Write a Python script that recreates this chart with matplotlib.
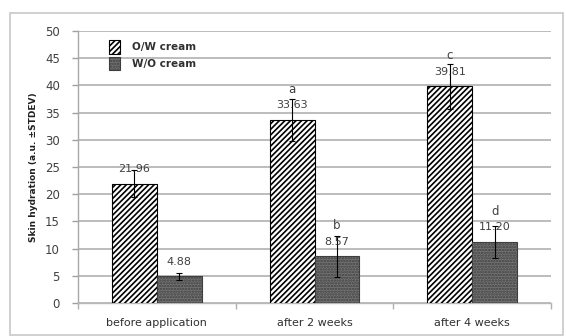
import matplotlib
matplotlib.use("Agg")
import matplotlib.pyplot as plt
from matplotlib.patches import Rectangle
import numpy as np

plt.rcParams["hatch.linewidth"] = 1.2

categories = ["before application", "after 2 weeks", "after 4 weeks"]
series_names = ["O/W cream", "W/O cream"]
ow_values = [21.96, 33.63, 39.81]
wo_values = [4.88, 8.57, 11.20]
ow_errors = [2.4, 3.8, 4.2]
wo_errors = [0.7, 3.8, 3.0]
ow_letters = ["", "a", "c"]
wo_letters = ["", "b", "d"]
y_ticks = [0, 5, 10, 15, 20, 25, 30, 35, 40, 45, 50]

fig = plt.figure(figsize=(5.66, 3.36), dpi=100)
fig.patches.append(Rectangle((10 / 566, 1 / 336), 553 / 566, 322 / 336,
                             transform=fig.transFigure, fill=False,
                             edgecolor="#c8c8c8", linewidth=1.2))
ax = fig.add_axes([78 / 566, 33 / 336, 473 / 566, 272 / 336])

x = np.arange(len(categories))
w = 0.285
txt_color = "#404040"

ax.bar(x - w / 2, ow_values, w, facecolor="white", edgecolor="black",
       hatch="//////", linewidth=0.8, label=series_names[0], zorder=3)
ax.bar(x + w / 2, wo_values, w, facecolor="#767676", edgecolor="#3e3e3e",
       hatch="......", linewidth=0.8, label=series_names[1], zorder=3)
ax.errorbar(x - w / 2, ow_values, yerr=ow_errors, fmt="none", ecolor="black",
            elinewidth=0.8, capsize=2, capthick=0.8, zorder=4)
ax.errorbar(x + w / 2, wo_values, yerr=wo_errors, fmt="none", ecolor="black",
            elinewidth=0.8, capsize=2, capthick=0.8, zorder=4)

for xs, vals, letters in ((x - w / 2, ow_values, ow_letters),
                          (x + w / 2, wo_values, wo_letters)):
    for xi, v, let in zip(xs, vals, letters):
        ax.text(xi, v + 2.7, f"{v:.2f}", ha="center", va="center",
                fontsize=8, color=txt_color, zorder=5)
        if let:
            ax.text(xi, v + 5.6, let, ha="center", va="center",
                    fontsize=8.5, color=txt_color, zorder=5)

ax.set_xlim(-0.5, 2.5)
ax.set_ylim(0, 50)
ax.set_yticks(y_ticks)
ax.set_xticks(x)
ax.set_xticklabels(categories)
ax.set_xticks([-0.5, 0.5, 1.5, 2.5], minor=True)
ax.tick_params(axis="x", which="major", length=0, pad=11, labelsize=8,
               labelcolor="#303030")
ax.tick_params(axis="x", which="minor", length=4, color="#b0b0b0", width=1.0)
ax.tick_params(axis="y", length=4, color="#a0a0a0", width=1.0, pad=9,
               labelsize=8.5, labelcolor="#404040")
ax.grid(axis="y", color="#bcbcbc", linewidth=1.4, zorder=0)
ax.set_axisbelow(True)
for s in ("top", "right"):
    ax.spines[s].set_visible(False)
ax.spines["left"].set_color("#a8a8a8")
ax.spines["bottom"].set_color("#b8b8b8")
ax.spines["left"].set_linewidth(1.0)
ax.spines["bottom"].set_linewidth(1.0)

ax.set_ylabel("Skin hydration (a.u. \u00b1STDEV)", fontsize=6.5,
              fontweight="bold", color="#202020", labelpad=5)

leg = ax.legend(loc="upper left", bbox_to_anchor=(0.045, 1.0), frameon=False,
                prop={"size": 7.5, "weight": "bold"}, handlelength=1.1,
                handleheight=1.6, handletextpad=1.1, labelspacing=0.3)
for t in leg.get_texts():
    t.set_color("#303030")

fig.savefig("out.png", dpi=100)
